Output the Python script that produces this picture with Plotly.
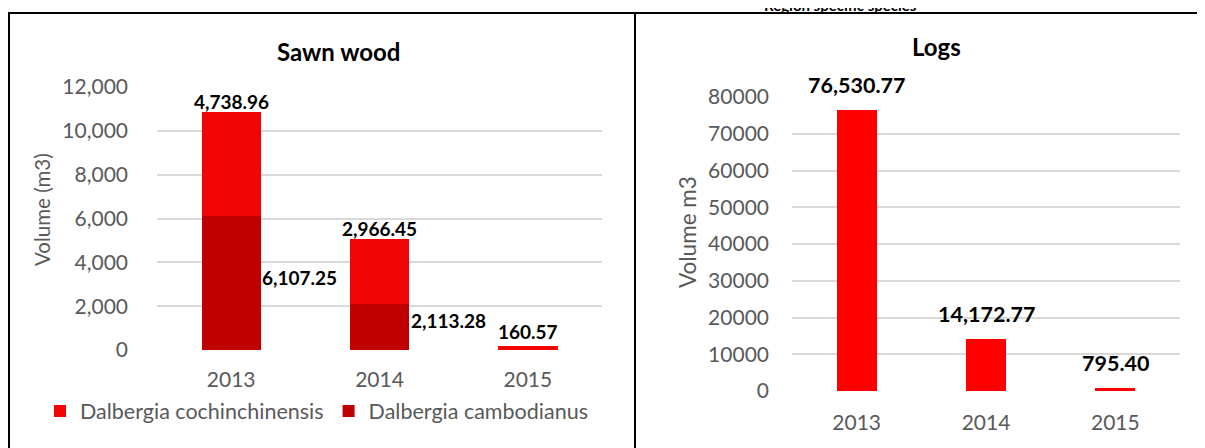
import plotly.graph_objects as go

W, H = 1205, 448
OFF = 8  # page body margin around the plot div

# data
years = ["2013", "2014", "2015"]
sawn_cambodianus = [6107.25, 2113.28, 0]
sawn_cochinchinensis = [4738.96, 2966.45, 160.57]
logs_volume = [76530.77, 14172.77, 795.40]

sawn_ticks = [0, 2000, 4000, 6000, 8000, 10000, 12000]
logs_ticks = [0, 10000, 20000, 30000, 40000, 50000, 60000, 70000, 80000]

FONT = "Lato"
GREY = "#595959"
GRID = "#D9D9D9"
RED = "#F20505"
DARK_RED = "#C00000"


def px(x):
    return (x - OFF) / W


def py(y):
    return 1 - (y - OFF) / H


fig = go.Figure()

fig.add_trace(go.Bar(
    x=years, y=sawn_cambodianus, name="Dalbergia cambodianus",
    marker=dict(color=DARK_RED, line=dict(width=0)),
    xaxis="x", yaxis="y",
))
fig.add_trace(go.Bar(
    x=years, y=sawn_cochinchinensis, name="Dalbergia cochinchinensis",
    marker=dict(color=RED, line=dict(width=0)),
    xaxis="x", yaxis="y",
))
fig.add_trace(go.Bar(
    x=years, y=logs_volume, name="Logs", width=0.31,
    marker=dict(color="#FF0000", line=dict(width=0)),
    xaxis="x2", yaxis="y2", showlegend=False,
))

annotations = []
label_font = dict(family=FONT, size=19, color="black", weight="bold")

# sawn wood labels: cochinchinensis above the stack, cambodianus beside the bar
# (category axes take the category index as annotation x)
for i, (bot, top) in enumerate(zip(sawn_cambodianus, sawn_cochinchinensis)):
    annotations.append(dict(
        x=i, y=bot + top, xref="x", yref="y", text=f"{top:,.2f}",
        showarrow=False, xanchor="center", yanchor="bottom",
        yshift=-3 if bot > 0 else 1, font=label_font,
    ))
    if bot > 0:
        annotations.append(dict(
            x=i, y=bot / 2, xref="x", yref="y", text=f"{bot:,.2f}",
            showarrow=False, xanchor="left", yanchor="middle",
            xshift=29, yshift=6, font=label_font,
        ))

for i, v in enumerate(logs_volume):
    annotations.append(dict(
        x=i, y=v, xref="x2", yref="y2", text=f"{v:,.2f}",
        showarrow=False, xanchor="center", yanchor="middle", yshift=25,
        font=dict(family=FONT, size=21.5, color="black", weight="bold"),
    ))

title_font = dict(family=FONT, size=24, color="black", weight="bold")
annotations += [
    dict(x=px(338), y=py(52), xref="paper", yref="paper", text="Sawn wood",
         showarrow=False, xanchor="center", yanchor="middle", font=title_font),
    dict(x=px(936), y=py(47), xref="paper", yref="paper", text="Logs",
         showarrow=False, xanchor="center", yanchor="middle", font=title_font),
    dict(x=px(42), y=py(210), xref="paper", yref="paper", text="Volume (m3)",
         showarrow=False, xanchor="center", yanchor="middle", textangle=-90,
         font=dict(family=FONT, size=20.5, color=GREY)),
    dict(x=px(687), y=py(232), xref="paper", yref="paper", text="Volume m3",
         showarrow=False, xanchor="center", yanchor="middle", textangle=-90,
         font=dict(family=FONT, size=22.5, color=GREY)),
    dict(x=px(840), y=py(5), xref="paper", yref="paper",
         text="Region specific species", showarrow=False,
         xanchor="center", yanchor="middle",
         font=dict(family=FONT, size=15, color="black", weight="bold")),
]

shapes = [
    dict(type="rect", xref="paper", yref="paper",
         x0=px(9), x1=px(635), y0=py(13), y1=py(470),
         line=dict(color="black", width=2)),
    dict(type="line", xref="paper", yref="paper",
         x0=px(635), x1=px(1230), y0=py(13), y1=py(13),
         line=dict(color="black", width=2)),
]

tick_font = dict(family=FONT, size=21, color=GREY)

fig.update_layout(
    width=W, height=H,
    margin=dict(l=0, r=0, t=0, b=0, autoexpand=False),
    paper_bgcolor="white", plot_bgcolor="white",
    barmode="stack", bargap=0.6,
    xaxis=dict(domain=[px(157), px(602)], type="category",
               categoryorder="array", categoryarray=years, range=[-0.5, 2.5],
               showline=False, showgrid=False, tickfont=tick_font, ticks="",
               ticklabelstandoff=15, anchor="y", automargin=False),
    yaxis=dict(domain=[py(350), py(87)], range=[0, 12000], tickvals=sawn_ticks,
               tickformat=",d", gridcolor=GRID, gridwidth=1.5,
               zeroline=False, showline=False, tickfont=tick_font,
               ticks="", ticklabelstandoff=28, anchor="x", automargin=False),
    xaxis2=dict(domain=[px(792), px(1180)], type="category",
                categoryorder="array", categoryarray=years, range=[-0.5, 2.5],
                showline=False, showgrid=False, tickfont=tick_font, ticks="",
                ticklabelstandoff=17, anchor="y2", automargin=False),
    yaxis2=dict(domain=[py(391), py(97)], range=[0, 80000], tickvals=logs_ticks,
                tickformat="d", gridcolor=GRID, gridwidth=1.5,
                zeroline=False, showline=False, tickfont=tick_font,
                ticks="", ticklabelstandoff=22, anchor="x2", automargin=False),
    legend=dict(orientation="h", x=px(40), y=py(411), xanchor="left",
                yanchor="middle", traceorder="reversed", itemwidth=30,
                font=dict(family=FONT, size=21.5, color=GREY),
                bgcolor="rgba(0,0,0,0)"),
    annotations=annotations,
    shapes=shapes,
)

fig.write_html("out.html")
